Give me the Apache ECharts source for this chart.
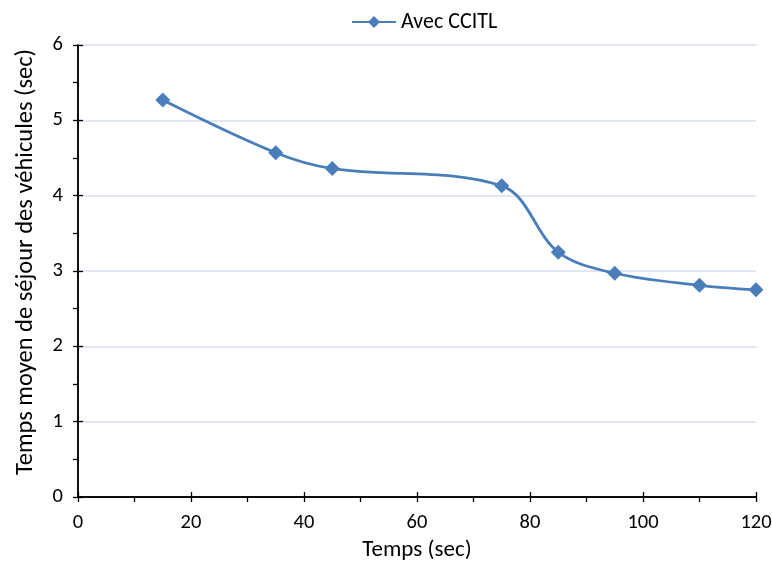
<!DOCTYPE html>
<html>
<head>
<meta charset="utf-8">
<script src="https://cdn.jsdelivr.net/npm/echarts@6/dist/echarts.min.js"></script>
<style>
  html, body { margin: 0; padding: 0; background: #fff; }
  #chart { width: 772px; height: 562px; }
</style>
</head>
<body>
<div id="chart"></div>
<script>
// Mean vehicle dwell time against simulation time
const seriesName = 'Avec CCITL';
const timeSec = [15, 35, 45, 75, 85, 95, 110, 120];
const dwellSec = [5.27, 4.57, 4.36, 4.13, 3.25, 2.97, 2.81, 2.75];
const xTitle = 'Temps (sec)';
const yTitle = 'Temps moyen de séjour des véhicules (sec)';

const FONT = 'Carlito, "Open Sans", sans-serif';
const BLUE = '#4A7EBB';
const points = timeSec.map((t, i) => [t, dwellSec[i]]);

const chart = echarts.init(document.getElementById('chart'));

const xBase = {
  type: 'value', min: 0, max: 120, interval: 20,
  axisLine: { lineStyle: { color: '#000', width: 1.5 } },
  splitLine: { show: false }
};
const yBase = {
  type: 'value', min: 0, max: 6, interval: 1,
  axisLine: { lineStyle: { color: '#000', width: 1.5 } }
};

chart.setOption({
  animation: false,
  textStyle: { fontFamily: FONT },
  legend: {
    top: 6, left: 346,
    itemWidth: 44, itemHeight: 15, itemGap: 5,
    textStyle: { fontSize: 22, color: '#000', fontFamily: FONT },
    data: [seriesName]
  },
  grid: {
    left: 78, right: 16, top: 45, bottom: 65,
    containLabel: false, outerBoundsMode: 'none'
  },
  xAxis: [
    Object.assign({}, xBase, {
      name: xTitle, nameLocation: 'middle', nameGap: 42,
      nameTextStyle: { fontSize: 23, color: '#000', fontFamily: FONT },
      axisTick: { show: true, inside: false, length: 5, lineStyle: { color: '#000', width: 1.3 } },
      minorTick: { show: true, splitNumber: 2, length: 5, lineStyle: { color: '#000', width: 1.3 } },
      axisLabel: { fontSize: 20.5, color: '#000', margin: 15, fontFamily: FONT }
    }),
    Object.assign({}, xBase, {
      position: 'bottom',
      axisTick: { show: true, inside: true, length: 5, lineStyle: { color: '#000', width: 1.3 } },
      axisLabel: { show: false }
    })
  ],
  yAxis: [
    Object.assign({}, yBase, {
      name: yTitle, nameLocation: 'middle', nameGap: 40,
      nameTextStyle: { fontSize: 24.5, color: '#000', fontFamily: FONT, padding: [0, 0, 0, 18] },
      axisTick: { show: true, inside: false, length: 5, lineStyle: { color: '#000', width: 1.3 } },
      minorTick: { show: true, splitNumber: 2, length: 5, lineStyle: { color: '#000', width: 1.3 } },
      axisLabel: { fontSize: 20.5, color: '#000', margin: 15, fontFamily: FONT },
      splitLine: { show: true, lineStyle: { color: '#D6DFEE', width: 1.5 } }
    }),
    Object.assign({}, yBase, {
      position: 'left',
      axisTick: { show: true, inside: true, length: 5, lineStyle: { color: '#000', width: 1.3 } },
      axisLabel: { show: false },
      splitLine: { show: false }
    })
  ],
  series: [{
    name: seriesName,
    type: 'line',
    data: points,
    smooth: 0.35,
    symbol: 'diamond',
    symbolSize: 15,
    lineStyle: { color: BLUE, width: 2.8 },
    itemStyle: { color: BLUE },
    z: 5
  }]
});
</script>
</body>
</html>
